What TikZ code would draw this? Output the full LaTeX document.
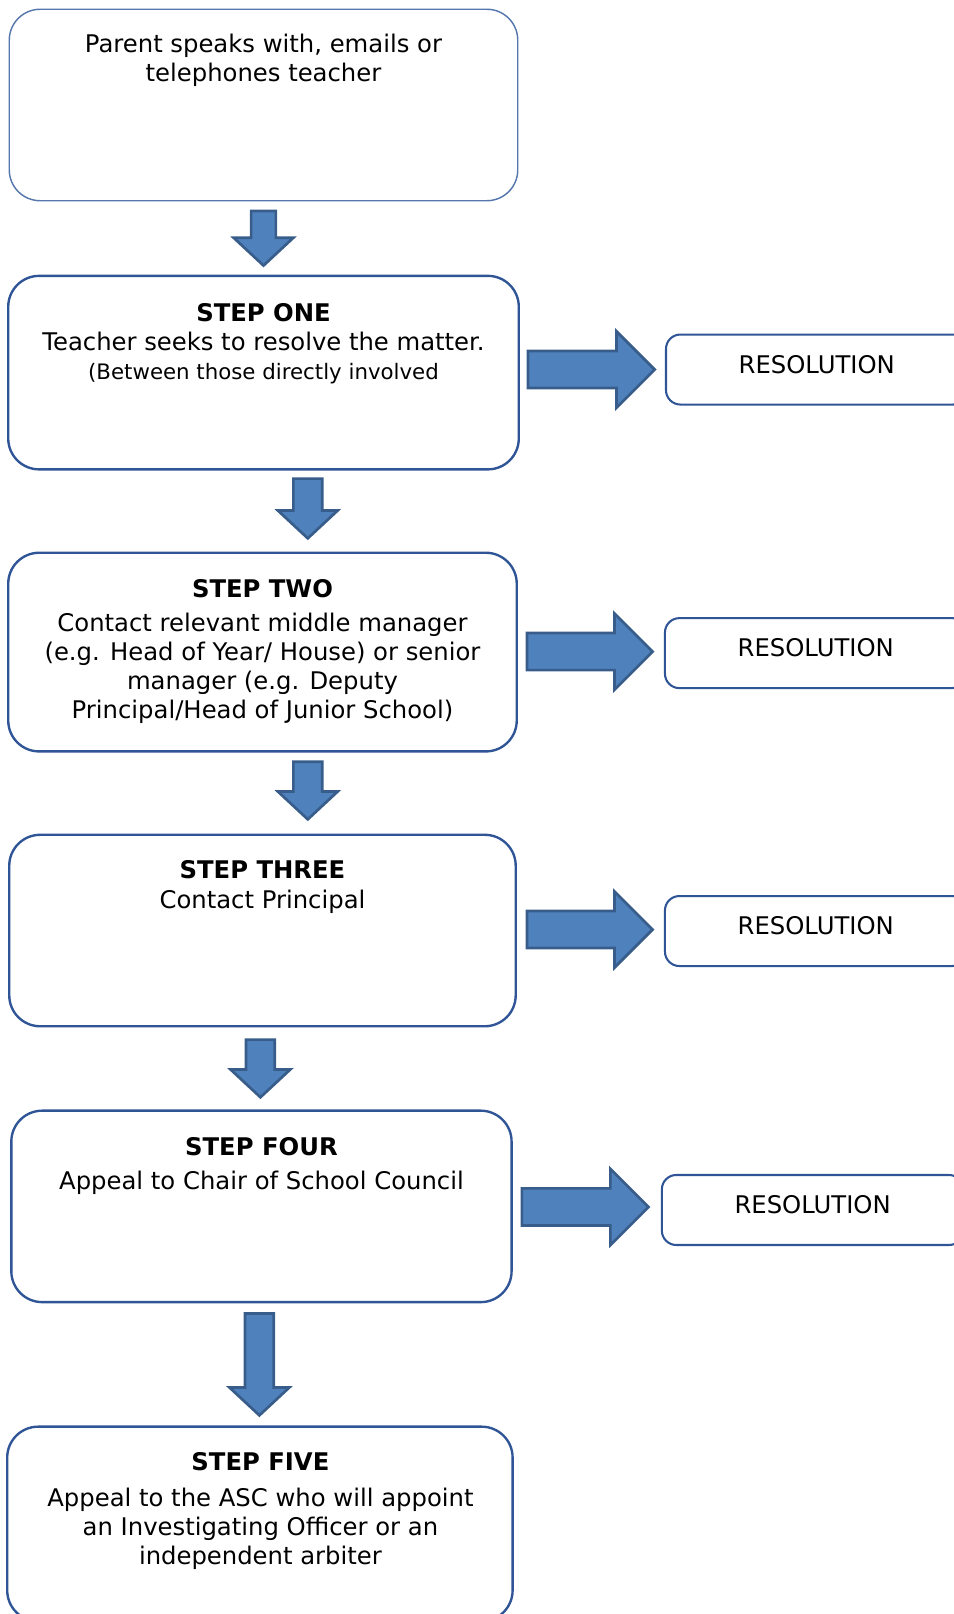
\documentclass[tikz,border=0pt]{standalone}
\usepackage{fontspec}
\setmainfont{DejaVu Sans}
\usetikzlibrary{calc}
\definecolor{BoxLine}{HTML}{2F5597}
\definecolor{TopLine}{HTML}{5577AD}
\definecolor{ArrowFill}{HTML}{4F81BD}
\definecolor{ArrowLine}{HTML}{385D8A}

\newcommand{\DownArrow}[3][14]{%
  \draw[BlockArrow] let \p1=(#2), \p2=(#3) in
    (\x1-#1pt,\y1) -- (\x1+#1pt,\y1) -- (\x1+#1pt,\y2+27pt) -- (\x1+29pt,\y2+27pt)
    -- (\x2,\y2) -- (\x1-29pt,\y2+27pt) -- (\x1-#1pt,\y2+27pt) -- cycle;}
\newcommand{\RightArrow}[2]{%
  \draw[BlockArrow] let \p1=(#1), \p2=(#2) in
    (\x1,\y1+18pt) -- (\x2-37pt,\y1+18pt) -- (\x2-37pt,\y1+37pt) -- (\x2,\y2)
    -- (\x2-37pt,\y1-37pt) -- (\x2-37pt,\y1-18pt) -- (\x1,\y1-18pt) -- cycle;}

\begin{document}
\begin{tikzpicture}
[x=1pt, y=-1pt,
 StepBox/.style={rectangle, rounded corners=30pt,
    draw=BoxLine, line width=2.3pt, fill=white},
 TopBox/.style={StepBox, draw=TopLine, line width=1.4pt},
 ResBox/.style={rectangle, rounded corners=14pt,
    draw=BoxLine, line width=2pt, text depth=10pt,
    minimum width=293pt, minimum height=68pt,
    font=\fontsize{23.6}{28}\selectfont},
 Txt/.style={align=center, inner sep=0pt, anchor=north,
    font=\fontsize{23.6}{28}\selectfont},
 BlockArrow/.style={fill=ArrowFill, draw=ArrowLine, line width=2.6pt}]
\useasboundingbox (0,0) rectangle (926,1568);

\node[TopBox, minimum width=494pt, minimum height=186pt] (s0) at (256,102){};
\foreach \k/\x/\y/\w/\h in {1/256/362/496/188, 2/255/633.5/494/193,
    3/255/904/492/186, 4/254/1172/486/186, 5/252.5/1480.5/491/189}
    \node[StepBox, minimum width=\w pt, minimum height=\h pt] (s\k) at (\x,\y){};

\node[Txt] (t0) at (256,33){Parent speaks with, emails or\\telephones teacher};
\node[Txt] (t1) at (256,295){\textbf{STEP ONE}\\Teacher seeks to resolve the matter.\\
    {\fontsize{20.7}{24}\selectfont(Between those directly involved}};
\node[Txt] (t2) at (255,563){\textbf{STEP TWO}\\[5pt]Contact relevant middle manager\\
    (e.g. Head of Year/ House) or senior\\manager (e.g. Deputy\\Principal/Head of Junior School)};
\node[Txt] (t3) at (255,836){\textbf{STEP THREE}\\[1pt]Contact Principal};
\node[Txt] (t4) at (254,1105){\textbf{STEP FOUR}\\[5pt]Appeal to Chair of School Council};
\node[Txt] (t5) at (253,1411){\textbf{STEP FIVE}\\[7pt]Appeal to the ASC who will appoint\\
    an Investigating Officer or an\\independent arbiter};

\foreach \k/\x/\y in {1/793.5/359, 2/792.5/634.5, 3/792.5/904.5, 4/789.5/1175.5}
    \node[ResBox] (r\k) at (\x,\y){RESOLUTION};

\foreach \k/\x/\ya/\yb in {0/256/205/258, 1/299/465/523, 2/299/740/796,
    3/253/1010/1066, 4/252/1276/1375}{
    \coordinate (d\k a) at (\x,\ya);
    \coordinate (d\k b) at (\x,\yb);
}
\DownArrow[12]{d0a}{d0b}
\foreach \k in {1,...,4}{
    \DownArrow{d\k a}{d\k b}
}

\foreach \k/\xa/\xb/\y in {1/513/636/359, 2/512/634/633, 3/512/634/903, 4/507/630/1172.5}{
    \coordinate (a\k a) at (\xa,\y);
    \coordinate (a\k b) at (\xb,\y);
    \RightArrow{a\k a}{a\k b}
}
\end{tikzpicture}
\end{document}
